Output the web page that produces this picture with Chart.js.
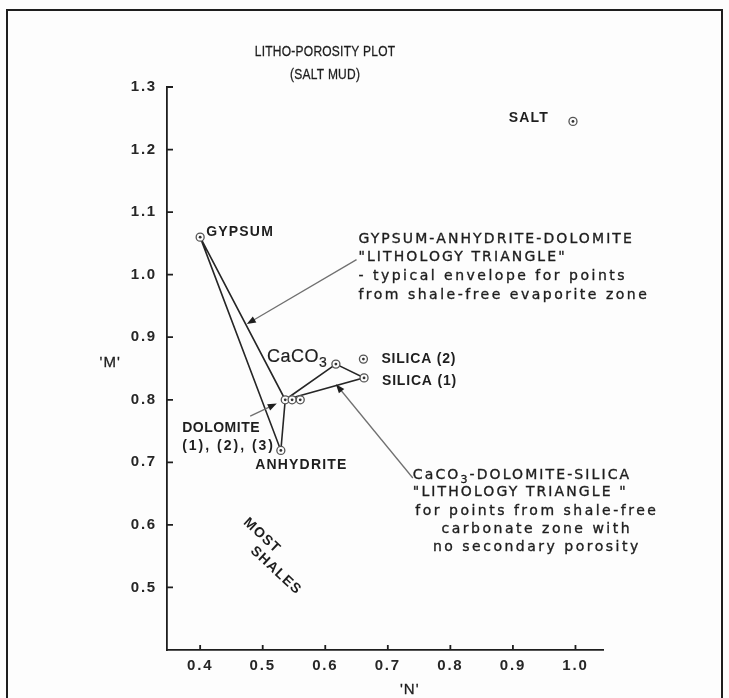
<!DOCTYPE html>
<html>
<head>
<meta charset="utf-8">
<script src="https://cdn.jsdelivr.net/npm/chart.js@4.4.1/dist/chart.umd.min.js"></script>
<style>
  html, body { margin: 0; padding: 0; background: #fdfdfd; }
  #wrap { position: relative; width: 729px; height: 698px; overflow: hidden; }
  #frame { position: absolute; left: 6px; top: 9px; width: 717px; height: 720px; border: 2px solid #1e1e1e; box-sizing: border-box; }
  canvas { position: absolute; left: 0; top: 0; }
</style>
</head>
<body>
<div id="wrap">
  <div id="frame"></div>
  <canvas id="chart" width="729" height="698"></canvas>
</div>
<script>
// Mineral points: 'N' across, 'M' up
const minerals = ['GYPSUM', 'ANHYDRITE', 'DOLOMITE (1)', 'DOLOMITE (2)', 'DOLOMITE (3)', 'CaCO3', 'SILICA (1)', 'SILICA (2)', 'SALT'];
const nValues = [0.400, 0.529, 0.536, 0.547, 0.560, 0.617, 0.662, 0.661, 0.996];
const mValues = [1.060, 0.719, 0.800, 0.800, 0.800, 0.857, 0.835, 0.865, 1.245];

// The two lithology triangles, as indexes into the lists above
const evaporiteTriangle = [0, 1, 2, 0];
const carbonateTriangle = [2, 5, 6, 2];

// Axis ticks
const nTicks = [0.4, 0.5, 0.6, 0.7, 0.8, 0.9, 1.0];
const mTicks = [0.5, 0.6, 0.7, 0.8, 0.9, 1.0, 1.1, 1.2, 1.3];

// Pointer arrows, [N, M] of tail and head
const arrowTails = [[0.650, 1.024], [0.480, 0.774], [0.740, 0.675]];
const arrowHeads = [[0.4746, 0.921], [0.5225, 0.794], [0.617, 0.825]];

const INK = '#1e1e1e';
const FONT = '"Liberation Sans", Arial, sans-serif';
const WIDE = '"DejaVu Sans", sans-serif';

// Make {x, y} points from a list of indexes
function pointsFor(indexes) {
    return indexes.map(i => ({ x: nValues[i], y: mValues[i] }));
}

// Text with letter spacing, a touch heavier when asked
function putText(ctx, text, x, y, font, align, spacing, heavy) {
    ctx.font = font;
    ctx.letterSpacing = (spacing || 0) + 'px';
    ctx.textAlign = align || 'left';
    ctx.fillText(text, x, y);
    if (heavy) {
        ctx.lineWidth = heavy;
        ctx.strokeStyle = ctx.fillStyle;
        ctx.strokeText(text, x, y);
    }
    return ctx.measureText(text).width;
}

// Text with a subscript "3" after CaCO
function putCaCO3(ctx, x, y, size, family, spacing, heavy, rest) {
    let w = putText(ctx, 'CaCO', x, y, size + 'px ' + family, 'left', spacing, heavy);
    w += putText(ctx, '3', x + w, y + size * 0.3, Math.round(size * 0.8) + 'px ' + family, 'left', spacing, heavy);
    if (rest) putText(ctx, rest, x + w, y, size + 'px ' + family, 'left', spacing, heavy);
}

function drawArrow(ctx, x0, y0, x1, y1) {
    const a = Math.atan2(y1 - y0, x1 - x0);
    ctx.strokeStyle = '#707070';
    ctx.lineWidth = 1.3;
    ctx.beginPath();
    ctx.moveTo(x0, y0);
    ctx.lineTo(x1 - 6 * Math.cos(a), y1 - 6 * Math.sin(a));
    ctx.stroke();
    ctx.fillStyle = INK;
    ctx.beginPath();
    ctx.moveTo(x1, y1);
    ctx.lineTo(x1 - 9 * Math.cos(a) + 3.5 * Math.sin(a), y1 - 9 * Math.sin(a) - 3.5 * Math.cos(a));
    ctx.lineTo(x1 - 9 * Math.cos(a) - 3.5 * Math.sin(a), y1 - 9 * Math.sin(a) + 3.5 * Math.cos(a));
    ctx.closePath();
    ctx.fill();
}

// Inward tick marks, arrows and all the lettering
const lettering = {
    id: 'lettering',
    beforeDraw(chart) {
        chart.ctx.letterSpacing = '1.8px';
    },
    afterDraw(chart) {
        const ctx = chart.ctx;
        const xs = chart.scales.x, ys = chart.scales.y;
        const X = v => xs.getPixelForValue(v);
        const Y = v => ys.getPixelForValue(v);
        const area = chart.chartArea;
        ctx.save();

        // tick marks pointing into the plot
        ctx.strokeStyle = INK;
        ctx.lineWidth = 1.8;
        ctx.beginPath();
        nTicks.forEach(v => { ctx.moveTo(X(v), area.bottom); ctx.lineTo(X(v), area.bottom - 5); });
        mTicks.forEach(v => { ctx.moveTo(area.left, Y(v)); ctx.lineTo(area.left + 6, Y(v)); });
        ctx.stroke();

        arrowTails.forEach((t, i) => {
            drawArrow(ctx, X(t[0]), Y(t[1]), X(arrowHeads[i][0]), Y(arrowHeads[i][1]));
        });

        ctx.fillStyle = INK;
        ctx.textBaseline = 'alphabetic';

        // title, slightly narrow lettering
        ctx.save();
        ctx.translate(X(0.5997), 0);
        ctx.scale(0.8, 1);
        putText(ctx, 'LITHO-POROSITY PLOT', 0, Y(1.3495), '15px ' + FONT, 'center', 0.3, 0.3);
        putText(ctx, '(SALT MUD)', 0, Y(1.3128), '15px ' + FONT, 'center', 0.3, 0.3);
        ctx.restore();

        // axis names
        putText(ctx, "'M'", X(0.2562), Y(0.853), '15px ' + FONT, 'center', 1, 0.3);
        putText(ctx, "'N'", X(0.735), Y(0.330), '15px ' + FONT, 'center', 1, 0.3);

        // mineral names
        const bold = 'bold 14px ' + FONT;
        putText(ctx, 'SALT', X(nValues[8]) - 24, Y(mValues[8]) + 1, bold, 'right', 1.2);
        putText(ctx, 'GYPSUM', X(nValues[0]) + 6, Y(mValues[0]) - 1, bold, 'left', 1.2);
        putText(ctx, 'SILICA (2)', X(nValues[7]) + 18, Y(mValues[7]) + 4, bold, 'left', 0.8);
        putText(ctx, 'SILICA (1)', X(nValues[6]) + 18, Y(mValues[6]) + 7, bold, 'left', 0.8);
        putText(ctx, 'DOLOMITE', X(0.3712), Y(0.748), bold, 'left', 0.5);
        putText(ctx, '(1), (2), (3)', X(0.3712), Y(0.720), bold, 'left', 2);
        putText(ctx, 'ANHYDRITE', X(0.4879), Y(0.689), bold, 'left', 1.2);
        putCaCO3(ctx, X(0.507), Y(0.8607), 18, FONT, 0.5, 0.2);

        // MOST SHALES, slanted two-line block
        ctx.save();
        ctx.translate(X(0.500), Y(0.584));
        ctx.rotate(0.75);
        putText(ctx, 'MOST', 0, 5, bold, 'center', 1.2);
        putText(ctx, 'SHALES', 34, 21, bold, 'center', 1.2);
        ctx.restore();

        // evaporite triangle note
        const note = '14px ' + WIDE;
        let x0 = X(0.653), y0 = Y(1.05);
        putText(ctx, 'GYPSUM-ANHYDRITE-DOLOMITE', x0, y0, note, 'left', 2.1, 0.35);
        putText(ctx, '"LITHOLOGY TRIANGLE"', x0, y0 + 18, note, 'left', 2.1, 0.35);
        putText(ctx, '- typical envelope for points', x0, y0 + 37, note, 'left', 2.5, 0.35);
        putText(ctx, 'from shale-free evaporite zone', x0, y0 + 56, note, 'left', 2.5, 0.35);

        // carbonate triangle note
        x0 = X(0.740); y0 = Y(0.6738);
        putCaCO3(ctx, x0, y0, 14, WIDE, 2.1, 0.35, '-DOLOMITE-SILICA');
        putText(ctx, '"LITHOLOGY TRIANGLE "', x0, y0 + 17, note, 'left', 2.1, 0.35);
        putText(ctx, 'for points from shale-free', x0 + 124, y0 + 36, note, 'center', 2.5, 0.35);
        putText(ctx, 'carbonate zone with', x0 + 124, y0 + 54, note, 'center', 2.5, 0.35);
        putText(ctx, 'no secondary porosity', x0 + 124, y0 + 72, note, 'center', 2.5, 0.35);

        ctx.restore();
        ctx.letterSpacing = '0px';
    }
};

const chart = new Chart(document.getElementById('chart'), {
    type: 'scatter',
    data: {
        datasets: [
            {
                label: 'centre dots',
                data: pointsFor(minerals.map((_, i) => i)),
                pointRadius: 1.4,
                pointBorderWidth: 0,
                pointBackgroundColor: '#333',
                order: 0
            },
            {
                label: 'minerals',
                data: pointsFor(minerals.map((_, i) => i)),
                pointRadius: 4,
                pointBorderWidth: 1.3,
                pointBorderColor: '#555',
                pointBackgroundColor: '#fdfdfd',
                order: 1
            },
            {
                label: 'evaporite triangle',
                data: pointsFor(evaporiteTriangle),
                showLine: true,
                pointRadius: 0,
                borderColor: '#262626',
                borderWidth: 1.6,
                order: 2
            },
            {
                label: 'carbonate triangle',
                data: pointsFor(carbonateTriangle),
                showLine: true,
                pointRadius: 0,
                borderColor: '#262626',
                borderWidth: 1.6,
                order: 2
            }
        ]
    },
    options: {
        responsive: false,
        animation: false,
        events: [],
        layout: { padding: { left: 107, right: 126, top: 87, bottom: 7 } },
        plugins: {
            legend: { display: false },
            tooltip: { enabled: false }
        },
        scales: {
            x: {
                type: 'linear',
                min: 0.347,
                max: 1.044,
                afterBuildTicks: s => { s.ticks = nTicks.map(v => ({ value: v })); },
                afterFit: s => { s.height = 41; },
                grid: { display: false, drawTicks: false },
                border: { display: true, color: INK, width: 1.8 },
                ticks: {
                    padding: 7,
                    color: '#262626',
                    font: { family: FONT, size: 15, weight: 'bold' },
                    callback: v => v.toFixed(1),
                    maxRotation: 0
                }
            },
            y: {
                type: 'linear',
                min: 0.4,
                max: 1.3,
                afterBuildTicks: s => { s.ticks = mTicks.map(v => ({ value: v })); },
                afterFit: s => { s.width = 60; },
                grid: { display: false, drawTicks: false },
                border: { display: true, color: INK, width: 1.8 },
                ticks: {
                    padding: 10,
                    color: '#262626',
                    font: { family: FONT, size: 15, weight: 'bold' },
                    callback: v => v.toFixed(1)
                }
            }
        }
    },
    plugins: [lettering]
});
</script>
</body>
</html>
